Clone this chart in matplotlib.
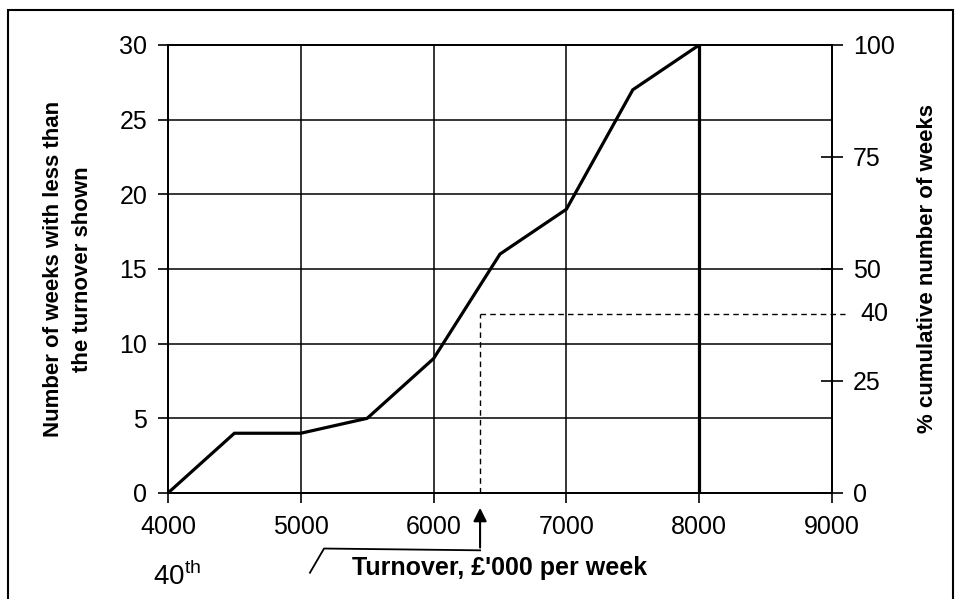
import matplotlib
matplotlib.use("Agg")
import matplotlib.pyplot as plt
from matplotlib.patches import Rectangle

plt.rcParams['font.family'] = ['Liberation Sans', 'DejaVu Sans']
plt.rcParams['mathtext.fontset'] = 'custom'
plt.rcParams['mathtext.rm'] = 'Liberation Sans'

# ogive data
turnover = [4000, 4500, 5000, 5500, 6000, 6500, 7000, 7500, 8000]
weeks = [0, 4, 4, 5, 9, 16, 19, 27, 30]
x_ticks = [4000, 5000, 6000, 7000, 8000, 9000]
y_ticks = [0, 5, 10, 15, 20, 25, 30]
pct_ticks = [0, 25, 50, 75, 100]
total_weeks = 30
pct_mark = 40
x_at_pct = 6350

fig = plt.figure(figsize=(9.55, 5.99), dpi=100)
ax = fig.add_axes([0.1759, 0.1770, 0.6953, 0.7479])

ax.plot(turnover, weeks, color='black', lw=2.3, solid_joinstyle='miter', zorder=4)
ax.plot([turnover[-1], turnover[-1]], [0, weeks[-1]], color='black', lw=2.3, zorder=4)

ax.set_xlim(4000, 9000)
ax.set_ylim(0, 30)
ax.set_xticks(x_ticks)
ax.set_yticks(y_ticks)
ax.grid(True, color='black', lw=1.1)
ax.tick_params(axis='both', labelsize=18, direction='out', length=7, width=1.2, colors='black')
ax.tick_params(axis='x', pad=9)
ax.tick_params(axis='y', pad=8)
for s in ax.spines.values():
    s.set_linewidth(1.3)

ax.set_ylabel("Number of weeks with less than\nthe turnover shown", fontsize=16,
              fontweight='bold', labelpad=19, linespacing=1.5)
ax.set_xlabel("Turnover, £'000 per week", fontsize=18, fontweight='bold', labelpad=12)

ax2 = ax.twinx()
ax2.set_ylim(0, 100)
ax2.set_yticks(pct_ticks)
ax2.tick_params(axis='y', labelsize=18, direction='inout', length=16, width=1.2, pad=7)
ax2.set_ylabel("% cumulative number of weeks", fontsize=16, fontweight='bold', labelpad=16)
for s in ax2.spines.values():
    s.set_linewidth(1.3)

# dashed reading lines at 40%
y40 = total_weeks * pct_mark / 100
ax.plot([x_at_pct, x_at_pct], [0, y40], color='black', lw=1.0, ls=(0, (4, 3)), zorder=3)
ax.plot([x_at_pct, 9000 + 100], [y40, y40], color='black', lw=1.0, ls=(0, (4, 3)),
        zorder=3, clip_on=False)
ax2.text(1.042, pct_mark, "40", transform=ax2.get_yaxis_transform(), fontsize=18,
         va='center', ha='left')

# arrow pointing to the 40th percentile turnover
xt = ax.get_xaxis_transform()
ax.annotate("", xy=(x_at_pct, -0.027), xytext=(x_at_pct, -0.128), xycoords=xt,
            textcoords=xt, annotation_clip=False,
            arrowprops=dict(arrowstyle='-|>', color='black', lw=1.5, mutation_scale=20))
ax.plot([x_at_pct, 5175, 5069], [-0.128, -0.124, -0.178], transform=xt,
        color='black', lw=1.3, clip_on=False)
fig.text(153 / 955, 1 - 585 / 599, "40$^{\\rm th}$", fontsize=20, ha='left', va='baseline')

# outer frame
fig.patches.append(Rectangle((8 / 955, -0.05), 945 / 955, 1.05 - 10 / 599,
                             transform=fig.transFigure, fill=False, lw=1.5,
                             edgecolor='black'))

fig.savefig("out.png", dpi=100)
